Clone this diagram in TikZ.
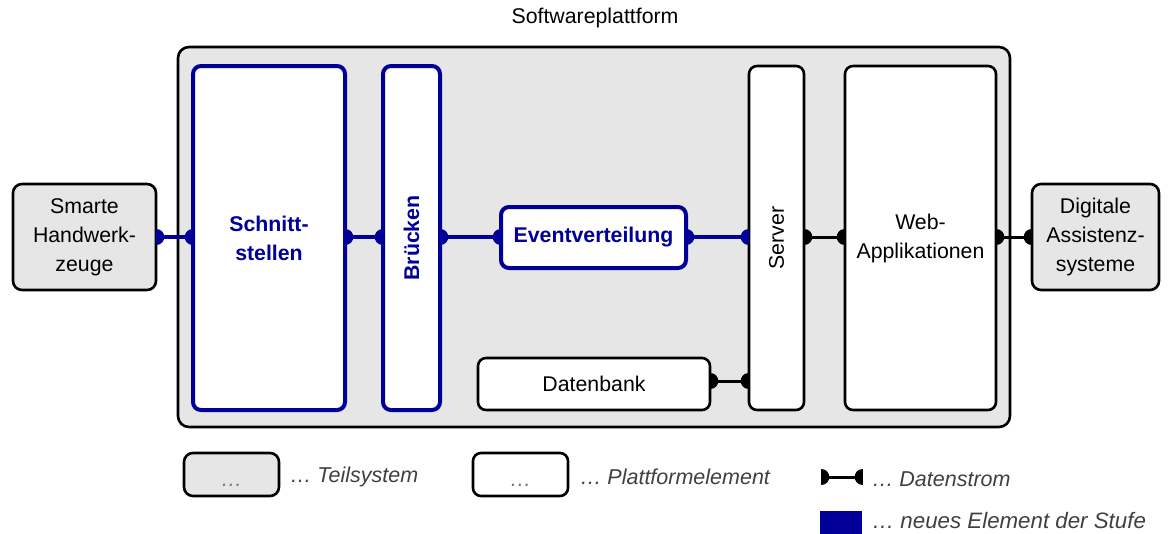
\documentclass[tikz,border=0pt]{standalone}
\usepackage{fontspec}
\usetikzlibrary{calc}
\setmainfont{Liberation Sans}
\definecolor{navy}{RGB}{0,0,153}
\definecolor{panel}{RGB}{230,230,230}
\definecolor{legendtext}{RGB}{64,64,64}
\definecolor{dots}{RGB}{120,120,120}
% data stream: line with half-disc ends sitting on both borders
\newcommand\dlink[3]{%
  \draw[line width=#1] (#2) -- (#3);
  \fill ($(#2)+(0,-8)$) .. controls ($(#2)+(10.7,-8)$) and ($(#2)+(10.7,8)$) .. ($(#2)+(0,8)$) -- cycle;
  \fill ($(#3)+(0,-8)$) .. controls ($(#3)+(-10.7,-8)$) and ($(#3)+(-10.7,8)$) .. ($(#3)+(0,8)$) -- cycle;
}
\begin{document}
\begin{tikzpicture}[x=1pt,y=-1pt,
  every node/.style={font=\fontsize{21.3}{29}\selectfont, align=center, outer sep=0pt, inner sep=0pt},
  sub/.style={draw=black, fill=panel, line width=2.6pt, rounded corners=9pt},
  elem/.style={draw=black, fill=white, line width=2.6pt, rounded corners=8pt},
  newelem/.style={draw=navy, fill=white, line width=4pt, rounded corners=8pt, text=navy, font=\fontsize{21.3}{29}\selectfont\bfseries},
  legtext/.style={anchor=west, text=legendtext, font=\fontsize{21.5}{29}\selectfont\itshape},
  legdots/.style={text=dots, font=\fontsize{21.5}{29}\selectfont\itshape, text height=24pt, text depth=0pt},
]
\useasboundingbox (0,0) rectangle (1169,533);

% title and platform
\node (title) at (595,18) {Softwareplattform};
\node[sub, rounded corners=11pt, minimum width=832, minimum height=380] (platform) at (594,237) {};

% external subsystems
\node[sub, minimum width=143, minimum height=106] (tools) at (84.5,237) {Smarte\\Handwerk-\\zeuge};
\node[sub, minimum width=127, minimum height=106] (assist) at (1095.5,237) {Digitale\\Assistenz-\\systeme};

% platform elements
\node[newelem, minimum width=152, minimum height=344] (iface) at (269,238) {Schnitt-\\stellen};
\node[newelem, minimum width=57, minimum height=344] (bridge) at (411.5,238) {\rotatebox{90}{Brücken}};
\node[newelem, minimum width=185, minimum height=61] (events) at (593.5,237.5) {Eventverteilung};
\node[elem, minimum width=55, minimum height=344] (server) at (776.5,238) {\rotatebox{90}{Server}};
\node[elem, minimum width=151, minimum height=344] (web) at (920.5,238) {Web-\\Applikationen};
\node[elem, minimum width=232, minimum height=52] (db) at (594,384) {Datenbank};

% data streams
\begin{scope}[navy, draw=navy, fill=navy]
  \dlink{4pt}{tools.east |- 0,237}{iface.west |- 0,237}
  \dlink{4pt}{iface.east |- 0,237}{bridge.west |- 0,237}
  \dlink{4pt}{bridge.east |- 0,237}{events.west |- 0,237}
  \dlink{4pt}{events.east |- 0,237}{server.west |- 0,237}
\end{scope}
\dlink{3pt}{server.east |- 0,237}{web.west |- 0,237}
\dlink{3pt}{web.east |- 0,237}{assist.west |- 0,237}
\dlink{3pt}{db.east |- 0,381}{server.west |- 0,381}

% legend
\node[sub, minimum width=95, minimum height=43, legdots] (legsub) at (231.5,474.5) {…};
\node[legtext] (legsubtext) at (290,477) {… Teilsystem};
\node[elem, minimum width=95, minimum height=43, legdots] (legelem) at (520.5,474.5) {…};
\node[legtext] (legelemtext) at (580,477) {… Plattformelement};
\coordinate (flowA) at (821,477);
\coordinate (flowB) at (863,477);
\dlink{3pt}{flowA}{flowB}
\node[legtext] (legflowtext) at (872,479) {… Datenstrom};
\node[fill=navy, minimum width=42, minimum height=23, anchor=north west] (legnew) at (820,511) {};
\node[legtext, font=\fontsize{22.3}{29}\selectfont\itshape] (legnewtext) at (872,521) {… neues Element der Stufe};
\end{tikzpicture}
\end{document}
